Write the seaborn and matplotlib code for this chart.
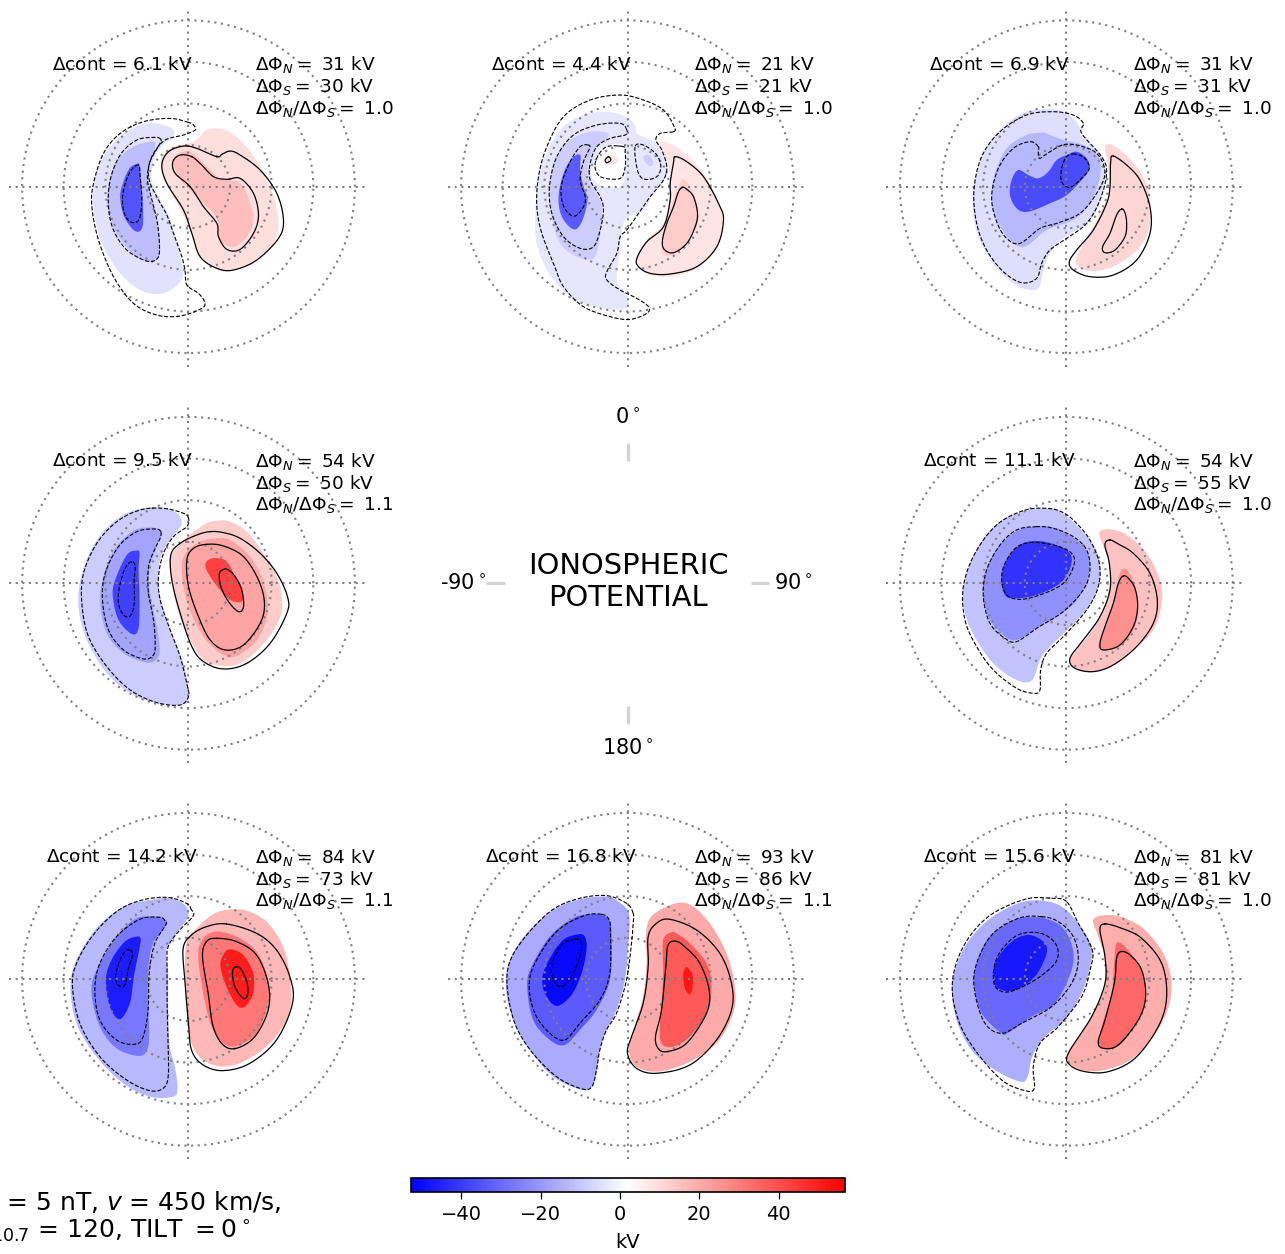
import numpy as np
import matplotlib
matplotlib.use("Agg")
import matplotlib.pyplot as plt
from matplotlib.colors import Normalize
from matplotlib.cm import ScalarMappable
import seaborn as sns

# contour outlines; sample units are 1/12.45 degree of colatitude
P1_CENTRE = (355, 290)
P1_B1 = [(290,108),(230,100),(170,125),(120,170),(85,230),(68,310),(75,390),(100,470),(150,550),(210,600),(265,612),(310,595),(338,560),(335,520),(318,450),(300,385),(265,320),(245,270),(250,210),(275,170),(312,130)]
P1_B2 = [(250,155),(200,165),(150,200),(120,260),(112,330),(125,400),(160,460),(205,505),(245,515),(268,495),(268,440),(255,370),(235,290),(232,240),(250,195),(255,165)]
P1_B3 = [(200,222),(178,235),(158,280),(150,320),(160,375),(185,415),(205,425),(218,405),(218,340),(212,270),(208,225)]
P1_R1 = [(405,122),(370,155),(310,170),(275,200),(278,260),(320,340),(355,410),(385,490),(430,530),(480,540),(560,510),(610,460),(625,400),(610,320),(570,230),(520,160),(470,122),(430,115)]
P1_R2 = [(340,185),(310,205),(315,240),(340,280),(400,340),(440,385),(450,450),(490,470),(530,440),(550,390),(540,340),(510,280),(450,265),(420,240),(370,190)]
P1_D1 = [(355,97),(300,85),(220,95),(150,130),(100,190),(70,280),(65,350),(85,450),(130,560),(190,640),(260,675),(330,678),(395,655),(403,635),(385,610),(350,585),(345,545),(335,500),(310,430),(290,375),(265,330),(240,280),(235,235),(250,190),(285,150),(340,135),(375,120),(370,105)]
P1_D2 = [(272,148),(255,142),(200,150),(150,195),(120,270),(115,350),(130,420),(170,480),(230,513),(262,505),(268,470),(262,400),(248,340),(232,270),(238,220),(255,185),(270,160)]
P1_D3 = [(205,225),(180,245),(160,300),(158,350),(170,385),(190,398),(208,385),(215,330),(210,260)]
P1_S1 = [(440,200),(380,175),(340,168),(295,185),(275,225),(290,280),(340,360),(365,430),(390,500),(440,535),(490,540),(560,510),(625,445),(640,390),(620,310),(570,240),(510,195),(480,183),(455,193)]
P1_S2 = [(365,200),(330,195),(308,215),(315,250),(360,290),(400,350),(440,400),(445,440),(470,478),(510,478),(550,430),(565,375),(550,310),(510,265),(470,268),(430,260),(395,225)]

P2_CENTRE = (352, 290)
P2_B1 = [(290,65),(220,75),(160,110),(115,175),(85,260),(75,400),(85,480),(130,570),(200,630),(280,655),(350,655),(350,620),(325,585),(320,550),(330,480),(335,420),(350,385),(400,360),(430,310),(465,265),(470,220),(450,170),(420,150),(380,130),(375,105),(345,80)]
P2_HOLE = [(255,215),(275,175),(340,165),(345,240),(330,290),(270,285),(240,250)]
P2_B2 = [(290,128),(240,125),(180,150),(140,200),(120,290),(125,380),(150,460),(200,500),(250,505),(268,450),(275,380),(270,330),(235,270),(235,220),(255,175),(290,145)]
P2_B3 = [(210,195),(185,205),(160,250),(145,320),(155,380),(190,418),(215,395),(232,330),(220,290),(210,240)]
P2_B4 = [(405,195),(400,205),(410,222),(425,228),(428,212),(415,195)]
P2_R0 = [(300,195),(285,210),(295,225),(318,220),(322,205)]
P2_R1 = [(458,155),(490,165),(530,195),(580,250),(625,340),(640,395),(620,470),(560,535),(480,560),(420,555),(385,530),(380,500),(410,450),(460,400),(478,330),(480,260),(470,215),(450,165)]
P2_R2 = [(515,270),(500,300),(480,360),(460,430),(455,480),(470,498),(510,480),(555,420),(565,370),(550,310),(525,270)]
P2_D1 = [(490,125),(492,110),(460,60),(400,30),(330,15),(240,30),(160,80),(110,170),(85,260),(80,350),(95,430),(130,520),(160,590),(220,650),(300,680),(360,688),(410,670),(415,650),(380,625),(330,600),(290,570),(290,545),(320,490),(330,440),(350,420),(385,370),(420,320),(460,270),(470,230),(455,180),(437,150),(450,130)]
P2_D2 = [(350,120),(330,100),(260,105),(190,135),(140,200),(118,290),(125,370),(160,440),(210,475),(250,470),(270,420),(280,360),(270,320),(240,270),(240,220),(260,170),(300,145),(345,135)]
P2_D3 = [(235,165),(210,170),(180,215),(155,280),(155,330),(170,365),(195,378),(220,350),(225,320),(210,270),(220,215),(238,175)]
P2_D4 = [(375,170),(375,200),(385,250),(405,268),(440,260),(452,230),(440,195),(410,170),(385,162)]
P2_D5 = [(340,170),(290,170),(262,200),(255,235),(275,262),(330,265),(345,230),(345,185)]
P2_S0 = [(295,200),(285,210),(290,218),(302,210)]
P2_S1 = [(495,200),(530,215),(580,260),(625,340),(640,390),(620,470),(560,530),(480,552),(420,550),(385,530),(380,505),(410,455),(460,410),(480,330),(480,280),(490,220)]
P2_S2 = [(518,292),(505,305),(490,350),(470,400),(457,450),(462,478),(490,488),(530,460),(555,410),(562,370),(550,320),(530,298)]

P3_CENTRE = (349, 290)
P3_B1 = [(290,58),(230,65),(170,100),(110,170),(75,270),(68,350),(85,440),(130,520),(190,580),(240,600),(268,590),(280,540),(300,490),(340,445),(410,400),(450,340),(465,260),(460,210),(420,160),(392,135),(390,115),(370,85),(330,62)]
P3_B2 = [(280,128),(230,135),(170,175),(135,250),(125,320),(140,390),(180,450),(225,470),(290,420),(370,390),(420,340),(450,260),(445,200),(400,165),(340,150),(300,135)]
P3_B3 = [(380,185),(350,195),(320,210),(295,245),(265,265),(235,255),(205,240),(185,270),(180,315),(200,355),(235,365),(300,340),(350,315),(395,270),(418,235),(410,205)]
P3_R1 = [(480,162),(465,170),(470,205),(480,280),(470,330),(430,410),(380,500),(385,530),(430,543),(500,525),(570,470),(600,400),(595,300),(560,230),(510,180)]
P3_D1 = [(400,100),(370,75),(310,65),(230,75),(150,125),(95,200),(72,300),(80,400),(110,480),(160,545),(215,578),(260,565),(275,520),(300,480),(350,445),(410,400),(450,330),(470,250),(455,200),(395,130)]
P3_D2 = [(265,170),(240,155),(190,175),(145,235),(125,320),(140,395),(170,445),(210,460),(270,415),(320,400),(390,370),(440,310),(465,250),(445,195),(400,170),(345,163),(300,185),(270,205),(265,190)]
P3_D3 = [(375,192),(350,200),(335,235),(335,275),(360,292),(395,265),(418,235),(405,205)]
P3_S1 = [(490,198),(482,215),(480,290),(470,340),(430,420),(380,480),(358,515),(370,540),(420,560),(490,555),(560,510),(600,430),(600,350),(570,270),(530,225)]
P3_S2 = [(515,357),(500,375),(480,430),(458,470),(465,488),(495,480),(525,440),(530,400),(525,368)]

P4_CENTRE = (355, 280)
P4_B1 = [(290,55),(220,55),(150,80),(80,150),(35,250),(25,350),(50,450),(110,550),(190,615),(270,642),(340,642),(355,620),(345,540),(320,470),(290,390),(268,310),(265,240),(280,180),(320,125),(335,100),(325,75)]
P4_B2 = [(240,112),(190,122),(135,175),(100,260),(90,340),(110,430),(160,490),(230,518),(262,505),(268,470),(258,400),(240,310),(238,240),(260,170),(275,130),(265,118)]
P4_B3 = [(200,182),(170,195),(135,270),(128,320),(145,390),(185,432),(205,415),(208,320),(205,240),(208,190)]
P4_R1 = [(440,92),(400,105),(335,155),(305,195),(300,240),(320,350),(355,440),(400,510),(460,528),(520,515),(590,450),(630,380),(635,320),(620,260),(580,190),(530,125),(480,95)]
P4_R2 = [(440,145),(390,155),(345,190),(335,250),(355,350),(400,440),(450,490),(495,500),(560,450),(590,380),(590,320),(570,250),(530,190),(480,150)]
P4_R3 = [(420,207),(405,225),(420,260),(450,300),(480,330),(515,335),(515,300),(490,250),(470,215),(445,205)]
P4_D1 = [(355,85),(340,70),(280,55),(210,60),(140,95),(80,160),(40,250),(35,340),(55,440),(110,530),(180,600),(260,638),(330,645),(355,620),(352,590),(330,500),(300,420),(270,330),(265,260),(280,190),(310,140),(350,110)]
P4_D2 = [(272,125),(255,117),(200,125),(145,170),(105,250),(97,330),(115,420),(160,480),(220,507),(250,495),(255,460),(250,390),(235,310),(235,230),(255,175),(270,145)]
P4_D3 = [(185,215),(165,235),(148,290),(145,340),(160,375),(180,378),(192,340),(192,270),(195,230)]
P4_S1 = [(420,125),(380,135),(330,160),(302,195),(305,270),(330,370),(365,470),(400,515),(460,537),(530,520),(600,460),(650,370),(652,320),(620,250),(570,190),(510,145),(460,128)]
P4_S2 = [(410,163),(370,175),(350,210),(355,290),(385,380),(420,450),(465,480),(520,465),(570,400),(583,340),(565,270),(520,200),(460,168)]
P4_S3 = [(462,238),(448,250),(452,290),(475,335),(505,365),(520,350),(515,300),(495,260),(475,240)]

P5_CENTRE = (349, 280)
P5_B1 = [(300,55),(230,62),(150,95),(85,170),(42,280),(45,370),(80,450),(130,520),(190,565),(235,577),(255,555),(270,510),(300,470),(400,370),(445,290),(450,220),(430,165),(380,105),(330,65)]
P5_B2 = [(270,110),(210,118),(150,165),(108,240),(100,300),(115,380),(160,435),(200,450),(260,415),(350,360),(400,300),(420,220),(400,170),(350,130),(310,112)]
P5_B3 = [(260,153),(210,165),(170,210),(155,265),(165,315),(195,325),(260,315),(330,280),(362,230),(360,190),(320,165)]
P5_R1 = [(465,118),(448,130),(460,170),(480,230),(475,310),(440,400),(380,480),(360,510),(375,535),(420,547),(480,530),(550,480),(610,420),(635,340),(630,270),(590,190),(530,135),(490,120)]
P5_R2 = [(522,237),(510,250),(490,340),(460,430),(445,470),(460,480),(510,470),(550,420),(565,360),(555,290),(535,245)]
P5_D1 = [(340,68),(290,55),(220,62),(140,105),(75,190),(40,290),(45,390),(80,470),(130,540),(200,595),(250,610),(270,600),(272,540),(290,490),(340,440),(410,360),(445,290),(448,220),(420,150),(380,100)]
P5_D2 = [(260,110),(200,120),(150,165),(110,240),(100,320),(120,400),(165,445),(200,455),(260,415),(340,365),(400,300),(420,240),(410,180),(370,140),(310,115)]
P5_D3 = [(250,157),(200,172),(165,220),(155,270),(170,315),(210,328),(270,315),(340,280),(372,225),(365,190),(320,168)]
P5_S1 = [(480,150),(465,165),(478,220),(480,300),(450,380),(400,450),(360,505),(375,535),(430,545),(490,525),(560,470),(610,400),(622,330),(600,250),(550,190),(510,165)]
P5_S2 = [(520,258),(505,280),(490,340),(465,410),(450,460),(460,480),(510,465),(550,410),(563,350),(555,295),(535,265)]

P6_CENTRE = (386, 298)
P6_B1 = [(330,55),(270,60),(190,80),(110,145),(50,240),(32,320),(50,430),(110,530),(190,610),(270,650),(340,650),(353,625),(345,560),(330,500),(325,400),(325,280),(320,210),(350,160),(385,110),(375,75)]
P6_B2 = [(280,110),(230,115),(170,170),(110,270),(95,340),(120,440),(170,505),(235,528),(262,510),(268,460),(265,380),(265,270),(280,190),(310,150),(320,125),(305,112)]
P6_B3 = [(230,170),(195,185),(155,240),(138,300),(150,380),(180,418),(210,370),(222,290),(240,200),(242,175)]
P6_R1 = [(520,88),(465,100),(410,145),(380,190),(375,290),(380,400),(395,490),(430,540),(490,560),(560,540),(640,480),(690,390),(690,290),(670,200),(625,130),(570,95)]
P6_R2 = [(470,155),(430,175),(415,225),(430,340),(455,440),(490,490),(530,498),(590,460),(625,370),(625,300),(590,215),(530,170)]
P6_R3 = [(510,208),(490,225),(482,260),(500,320),(530,375),(555,380),(580,340),(580,280),(550,225)]
P6_D1 = [(395,90),(380,70),(320,52),(240,62),(170,95),(100,165),(50,250),(38,320),(60,430),(120,530),(200,600),(270,632),(310,625),(325,590),(325,500),(322,380),(322,260),(325,200),(360,150),(395,115),(402,100)]
P6_D2 = [(315,122),(300,112),(240,118),(170,170),(120,250),(105,330),(120,420),(170,480),(225,493),(250,470),(265,390),(268,280),(285,190),(318,135)]
P6_D3 = [(210,210),(195,215),(175,255),(167,295),(178,318),(195,315),(205,270),(218,225)]
P6_S1 = [(500,132),(440,140),(395,165),(370,205),(375,300),(385,420),(395,510),(430,555),(490,572),(570,550),(650,480),(698,370),(690,290),(650,210),(590,160)]
P6_S2 = [(470,175),(440,185),(428,230),(445,340),(460,440),(490,495),(530,505),(585,470),(625,390),(625,310),(590,225),(530,185)]
P6_S3 = [(530,260),(518,275),(525,320),(550,355),(563,345),(562,310),(545,270)]

P7_CENTRE = (383, 298)
P7_B1 = [(320,50),(240,58),(160,90),(80,160),(30,240),(18,320),(40,420),(90,510),(160,590),(240,628),(275,622),(290,580),(300,510),(320,450),(350,390),(375,300),(385,200),(388,105),(360,68)]
P7_B2 = [(270,103),(220,115),(150,170),(95,260),(82,320),(100,420),(150,480),(195,495),(240,450),(290,390),(330,300),(335,180),(330,125),(305,105)]
P7_B3 = [(235,163),(190,180),(150,235),(128,290),(135,340),(170,378),(215,345),(245,280),(260,210),(255,170)]
P7_R1 = [(540,68),(490,85),(450,115),(438,170),(440,250),(430,350),(395,470),(388,520),(410,560),(470,575),(560,550),(650,490),(700,400),(705,320),(680,220),(630,130),(580,80)]
P7_R2 = [(515,157),(490,180),(490,270),(487,340),(480,430),(485,490),(520,500),(570,470),(620,400),(635,320),(620,250),(570,190),(535,163)]
P7_R3 = [(558,262),(550,285),(555,325),(570,343),(578,320),(578,285),(568,268)]
P7_D1 = [(400,100),(380,70),(320,47),(240,55),(160,88),(85,160),(32,240),(22,320),(45,430),(95,515),(170,590),(240,625),(275,622),(290,570),(300,510),(320,450),(350,400),(380,300),(395,190),(400,130)]
P7_D2 = [(305,103),(250,108),(170,155),(105,250),(88,320),(105,400),(150,460),(195,480),(240,430),(300,360),(330,280),(332,160),(328,120)]
P7_D3 = [(225,178),(190,190),(160,240),(155,280),(170,315),(195,315),(225,270),(245,210),(242,185)]
P7_S1 = [(510,118),(470,130),(445,170),(445,260),(430,370),(395,470),(383,520),(410,565),(470,580),(570,555),(650,480),(695,390),(695,310),(660,220),(590,150)]
P7_S2 = [(530,184),(505,195),(498,260),(485,390),(467,470),(475,505),(500,515),(560,490),(620,400),(628,330),(600,250),(560,205)]

P8_CENTRE = (364, 298)
P8_B1 = [(290,62),(220,70),(130,120),(60,200),(22,310),(35,420),(80,510),(150,570),(225,605),(248,590),(262,530),(300,470),(360,420),(410,340),(435,260),(440,200),(400,130),(350,80)]
P8_B2 = [(270,112),(210,118),(130,175),(92,260),(88,320),(110,400),(170,460),(195,455),(260,410),(330,370),(380,270),(382,200),(350,140),(300,115)]
P8_B3 = [(250,165),(200,185),(155,240),(145,300),(165,328),(210,330),(270,290),(305,220),(295,185)]
P8_R1 = [(490,105),(445,118),(460,170),(480,240),(475,330),(430,430),(375,510),(370,545),(410,570),(480,570),(570,530),(650,430),(680,330),(660,230),(600,150),(540,115)]
P8_R2 = [(515,190),(508,240),(500,340),(470,440),(460,490),(480,505),(530,490),(590,400),(602,340),(590,270),(540,200)]
P8_D1 = [(365,65),(320,55),(240,58),(130,110),(55,200),(22,310),(40,420),(90,510),(170,600),(240,632),(268,625),(265,560),(285,490),(340,440),(410,350),(435,270),(442,210),(400,130)]
P8_D2 = [(290,110),(220,115),(140,165),(92,260),(90,340),(120,430),(170,460),(230,430),(320,380),(380,310),(400,240),(385,170),(340,125)]
P8_D3 = [(265,157),(210,170),(160,225),(145,285),(155,325),(195,335),(270,300),(330,250),(338,205),(310,170)]
P8_S1 = [(480,132),(465,150),(480,230),(480,310),(440,410),(370,520),(375,555),(420,575),(490,575),(570,535),(640,440),(665,350),(650,250),(590,175),(530,145)]
P8_S2 = [(528,215),(515,235),(508,310),(480,420),(460,485),(475,505),(520,495),(580,420),(602,350),(590,270),(555,225)]

DELTA_CONT = [6.1, 4.4, 6.9, 9.5, 11.1, 14.2, 16.8, 15.6]
PHI_N = [31, 21, 31, 54, 54, 84, 93, 81]
PHI_S = [30, 21, 31, 50, 55, 73, 86, 81]
RATIO = [1.0, 1.0, 1.0, 1.1, 1.0, 1.1, 1.1, 1.0]
RINGS = [10, 20, 30, 40]
CB_TICKS = [-40, -20, 0, 20, 40]
VMIN, VMAX = -52.7, 56.7

# (outline, potential in kV of the filled band)
P1_FILLS = [(P1_B1,-4.4),(P1_B2,-11.9),(P1_B3,-34.5),(P1_R1,9.1),(P1_R2,15.9)]
P2_FILLS = [(P2_B1,-3.4),(P2_HOLE,2.0),(P2_B2,-8.7),(P2_B3,-33.4),(P2_B4,-8.7),(P2_R0,7.8),(P2_R1,7.8),(P2_R2,12.7)]
P3_FILLS = [(P3_B1,-5.1),(P3_B2,-13.0),(P3_B3,-36.6),(P3_R1,10.6)]
P4_FILLS = [(P4_B1,-8.7),(P4_B2,-17.3),(P4_B3,-38.8),(P4_R1,12.7),(P4_R2,21.3),(P4_R3,42.8)]
P5_FILLS = [(P5_B1,-10.9),(P5_B2,-21.6),(P5_B3,-42.0),(P5_R1,14.9),(P5_R2,25.6)]
P6_FILLS = [(P6_B1,-13.0),(P6_B2,-27.0),(P6_B3,-46.3),(P6_R1,17.0),(P6_R2,30.9),(P6_R3,50.3)]
P7_FILLS = [(P7_B1,-16.2),(P7_B2,-33.4),(P7_B3,-50.6),(P7_R1,20.2),(P7_R2,37.4),(P7_R3,52.4)]
P8_FILLS = [(P8_B1,-15.2),(P8_B2,-30.2),(P8_B3,-47.3),(P8_R1,19.2),(P8_R2,34.2)]

PANELS = [
    (P1_CENTRE, P1_FILLS, [P1_D1,P1_D2,P1_D3], [P1_S1,P1_S2]),
    (P2_CENTRE, P2_FILLS, [P2_D1,P2_D2,P2_D3,P2_D4,P2_D5], [P2_S0,P2_S1,P2_S2]),
    (P3_CENTRE, P3_FILLS, [P3_D1,P3_D2,P3_D3], [P3_S1,P3_S2]),
    (P4_CENTRE, P4_FILLS, [P4_D1,P4_D2,P4_D3], [P4_S1,P4_S2,P4_S3]),
    (P5_CENTRE, P5_FILLS, [P5_D1,P5_D2,P5_D3], [P5_S1,P5_S2]),
    (P6_CENTRE, P6_FILLS, [P6_D1,P6_D2,P6_D3], [P6_S1,P6_S2,P6_S3]),
    (P7_CENTRE, P7_FILLS, [P7_D1,P7_D2,P7_D3], [P7_S1,P7_S2]),
    (P8_CENTRE, P8_FILLS, [P8_D1,P8_D2,P8_D3], [P8_S1,P8_S2]),
]

W, H = 1285, 1254
PX_PER_DEG = 4.16
HALF = 180 / PX_PER_DEG
CENTRES_PX = [(188.5,186.7),(627.5,186.7),(1066.3,186.7),(188.5,583.3),(1066.3,583.3),(188.5,979.3),(627.5,979.3),(1066.3,979.3)]
GREY = "#808080"
DOTS = (0, (1, 2.2))
DOT_LW = 1.5

sns.set_theme(style="white", rc={"font.family": "DejaVu Sans", "text.color": "black",
                                 "axes.labelcolor": "black", "xtick.color": "black"})
plt.rcParams["mathtext.fontset"] = "dejavusans"

fig = plt.figure(figsize=(W / 100, H / 100), dpi=100, facecolor="white")
cmap = plt.get_cmap("bwr")
norm = Normalize(VMIN, VMAX)


def fx(px):
    return px / W


def fy(py):
    return 1 - py / H


def smooth(points, centre):
    """Closed Catmull-Rom curve through traced samples, in degrees from the pole."""
    p = (np.asarray(points, float) - centre) * [1, -1] / (3 * PX_PER_DEG)
    t = np.linspace(0, 1, 10, endpoint=False)[:, None]
    segs = []
    for i in range(len(p)):
        a, b, c, d = p[i - 1], p[i], p[(i + 1) % len(p)], p[(i + 2) % len(p)]
        segs.append(0.5 * (2 * b + (c - a) * t + (2 * a - 5 * b + 4 * c - d) * t**2 + (3 * b - a - 3 * c + d) * t**3))
    out = np.vstack(segs)
    return np.vstack([out, out[:1]])


for k, ((cx, cy), (centre, fills, dashed, solid)) in enumerate(zip(CENTRES_PX, PANELS)):
    ax = fig.add_axes([fx(cx - 185), fy(cy + 185), 370 / W, 370 / H])
    ax.set_axis_off()
    for outline, kv in fills:
        c = smooth(outline, centre)
        ax.fill(c[:, 0], c[:, 1], color=cmap(norm(kv)), lw=0, zorder=1)
    th = np.radians(np.arange(0, 361, 2))
    for r in RINGS:
        ax.plot(r * np.cos(th), r * np.sin(th), color=GREY, lw=DOT_LW, ls=DOTS, zorder=2)
    ax.plot([-HALF, HALF], [0, 0], color=GREY, lw=DOT_LW, ls=DOTS, zorder=2)
    ax.plot([0, 0], [-HALF, HALF], color=GREY, lw=DOT_LW, ls=DOTS, zorder=2)
    for outline in dashed:
        c = smooth(outline, centre)
        sns.lineplot(x=c[:, 0], y=c[:, 1], sort=False, estimator=None, color="black", lw=0.8, linestyle="--", ax=ax, zorder=3)
    for outline in solid:
        c = smooth(outline, centre)
        sns.lineplot(x=c[:, 0], y=c[:, 1], sort=False, estimator=None, color="black", lw=0.9, ax=ax, zorder=3)
    ax.set_xlim(-185 / PX_PER_DEG, 185 / PX_PER_DEG)
    ax.set_ylim(-185 / PX_PER_DEG, 185 / PX_PER_DEG)

    fig.text(fx(cx - 66.5), fy(cy - 122), rf"$\Delta$cont = {DELTA_CONT[k]:.1f} kV", ha="center", va="center", fontsize=13.3, zorder=5)
    fig.text(fx(cx + 66.5), fy(cy - 122), rf"$\Delta\Phi_N =$ {PHI_N[k]:.0f} kV", ha="left", va="center", fontsize=13.3, zorder=5)
    fig.text(fx(cx + 66.5), fy(cy - 100), rf"$\Delta\Phi_S =$ {PHI_S[k]:.0f} kV", ha="left", va="center", fontsize=13.3, zorder=5)
    fig.text(fx(cx + 66.5), fy(cy - 78), rf"$\Delta\Phi_N/\Delta\Phi_S =$ {RATIO[k]:.1f}", ha="left", va="center", fontsize=13.3, zorder=5)

# centre key
bg = fig.add_axes([0, 0, 1, 1], zorder=-1)
bg.set_axis_off()
bg.set_xlim(0, W)
bg.set_ylim(H, 0)
for xs, ys in [((627.5, 627.5), (443, 461)), ((627.5, 627.5), (706, 724)), ((486, 505), (583, 583)), ((751, 769), (583, 583))]:
    bg.plot(xs, ys, color="lightgrey", lw=2.4, solid_capstyle="butt")
fig.text(fx(628), fy(582), "IONOSPHERIC\nPOTENTIAL", ha="center", va="center", fontsize=20.8, linespacing=1.2)
fig.text(fx(628), fy(417), r"0$^\circ$", ha="center", va="center", fontsize=15)
fig.text(fx(628), fy(748), r"180$^\circ$", ha="center", va="center", fontsize=15)
fig.text(fx(463), fy(583), r"-90$^\circ$", ha="center", va="center", fontsize=15)
fig.text(fx(793), fy(583), r"90$^\circ$", ha="center", va="center", fontsize=15)

# footer, cut off by the left figure edge as in the source
fig.text(fx(281), fy(1203), r"$B_T$ = 5 nT, $v$ = 450 km/s,", ha="right", va="center", fontsize=18)
fig.text(fx(250), fy(1231), r"$F_{10.7}$ = 120, TILT $= 0^\circ$", ha="right", va="center", fontsize=18)

# colour bar
cax = fig.add_axes([fx(411), fy(1192), 434 / W, 14 / H])
sm = ScalarMappable(norm=norm, cmap=cmap)
cb = fig.colorbar(sm, cax=cax, orientation="horizontal", ticks=CB_TICKS)
cb.ax.tick_params(bottom=True, length=5, width=0.9, labelsize=14, color="black", pad=4)
cb.outline.set_linewidth(1.2)
cb.outline.set_edgecolor("black")
cb.set_label("kV", fontsize=14, labelpad=7)

fig.savefig("out.png", dpi=100)
